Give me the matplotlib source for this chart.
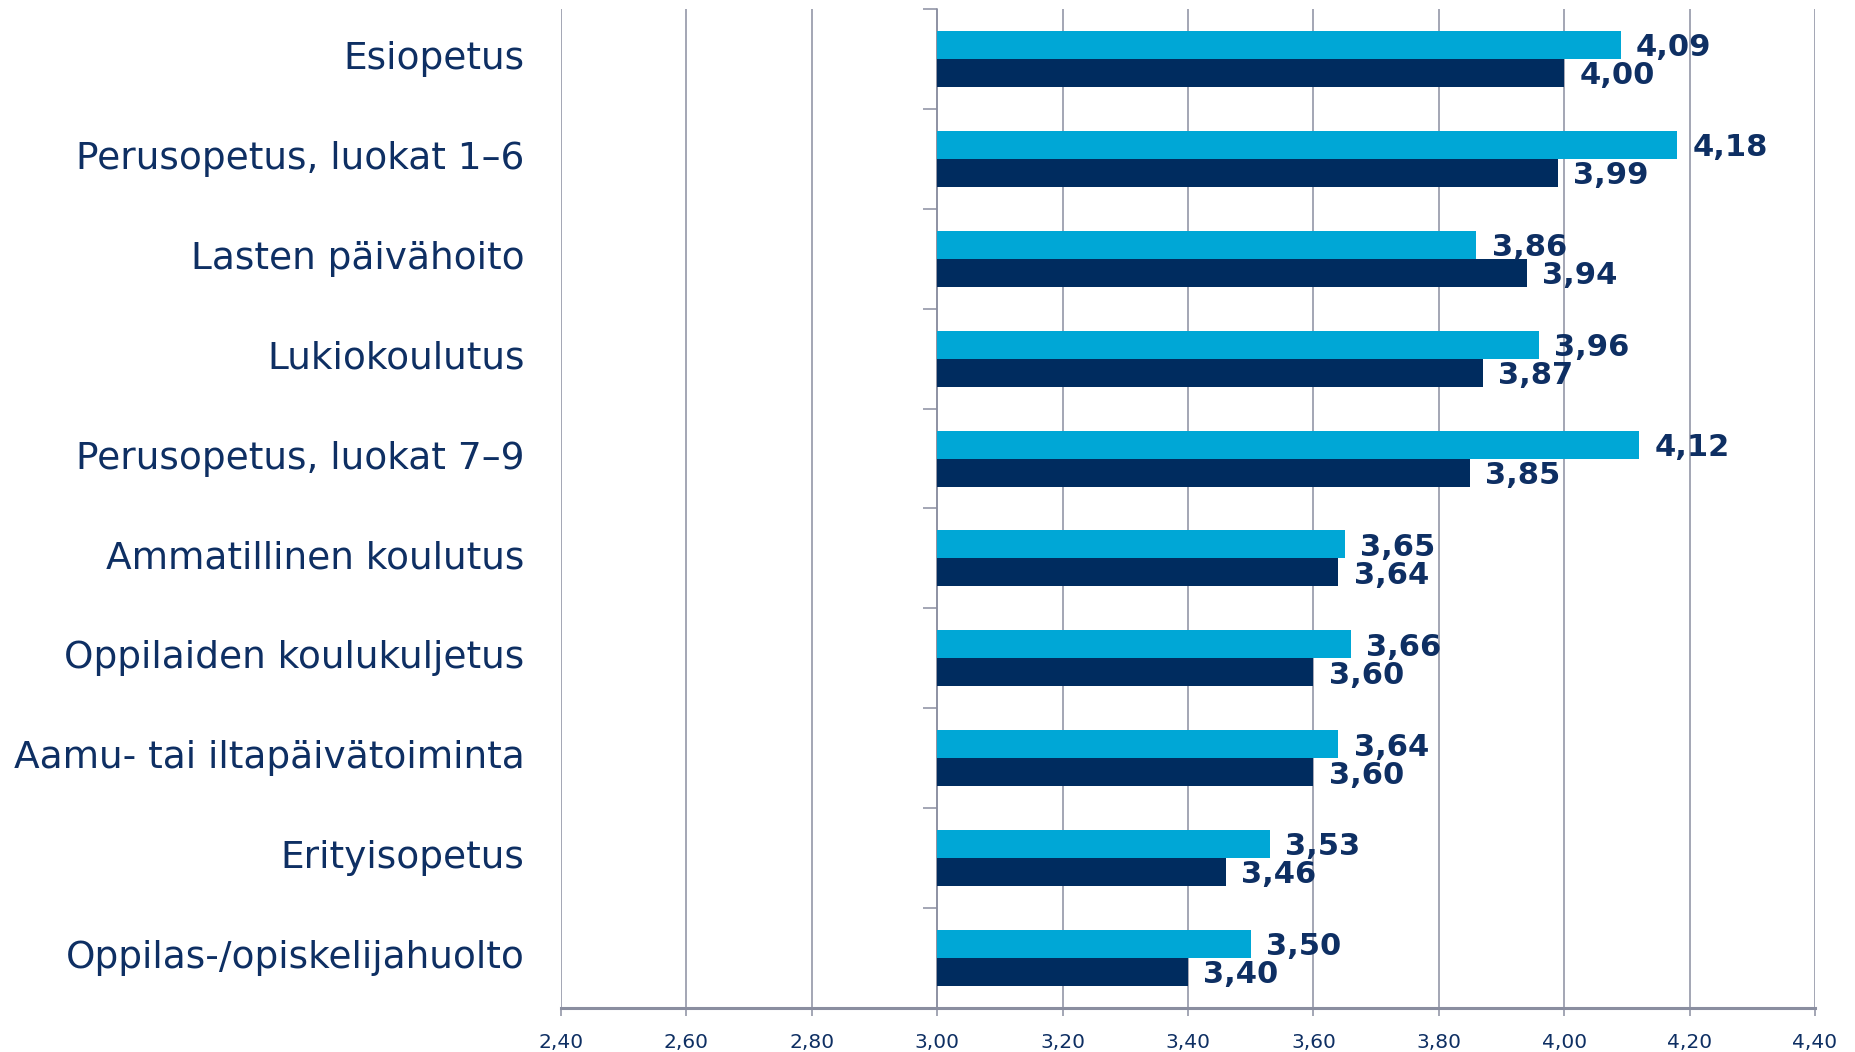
import numpy as np
import matplotlib
matplotlib.use('Agg')
import matplotlib.pyplot as plt
import matplotlib.transforms as mtransforms

categories = ['Esiopetus', 'Perusopetus, luokat 1\u20136', 'Lasten p\u00e4iv\u00e4hoito',
              'Lukiokoulutus', 'Perusopetus, luokat 7\u20139', 'Ammatillinen koulutus',
              'Oppilaiden koulukuljetus', 'Aamu- tai iltap\u00e4iv\u00e4toiminta',
              'Erityisopetus', 'Oppilas-/opiskelijahuolto']
light_vals = [4.09, 4.18, 3.86, 3.96, 4.12, 3.65, 3.66, 3.64, 3.53, 3.50]
dark_vals = [4.00, 3.99, 3.94, 3.87, 3.85, 3.64, 3.60, 3.60, 3.46, 3.40]
xticks = [2.40, 2.60, 2.80, 3.00, 3.20, 3.40, 3.60, 3.80, 4.00, 4.20, 4.40]

light = '#00A7D6'
dark = '#002C5F'
navy = '#0E2F63'
grid = '#8A8EA0'
base = 3.0

fig = plt.figure(figsize=(18.56, 10.52), dpi=100)
ax = fig.add_axes([561/1856, 1 - 1008/1052, (1815-561)/1856, (1008-9)/1052])

y = np.arange(len(categories))
h = 0.28
lv = np.array(light_vals)
dv = np.array(dark_vals)
ax.barh(y - h/2, lv - base, height=h, left=base, color=light, zorder=3)
ax.barh(y + h/2, dv - base, height=h, left=base, color=dark, zorder=3)

def fmt(v):
    return ('%.2f' % v).replace('.', ',')

for i in range(len(categories)):
    ax.annotate(fmt(lv[i]), (lv[i], y[i] - h/2),
                xytext=(11, -2), textcoords='offset points', va='center', ha='left',
                fontsize=22, fontweight='bold', color=navy, zorder=4)
    ax.annotate(fmt(dv[i]), (dv[i], y[i] + h/2),
                xytext=(11, -2), textcoords='offset points', va='center', ha='left',
                fontsize=22, fontweight='bold', color=navy, zorder=4)

# category names sit left of the axes, not at the spine
trans = mtransforms.blended_transform_factory(ax.transAxes, ax.transData)
for i, c in enumerate(categories):
    ax.text(-0.029, y[i], c, transform=trans, ha='right', va='center',
            fontsize=27, color=navy)

ax.set_xlim(2.40, 4.40)
ax.set_ylim(len(categories) - 0.5, -0.5)
ax.set_xticks(xticks)
ax.set_xticklabels([fmt(t) for t in xticks], fontsize=14.5, color=navy)
ax.set_yticks(np.arange(len(categories) + 1) - 0.5)
ax.set_yticklabels([])

for t in xticks:
    ax.axvline(t, color=grid, lw=1.1, zorder=1)

ax.spines['top'].set_visible(False)
ax.spines['right'].set_visible(False)
ax.spines['left'].set_position(('data', base))
ax.spines['left'].set_color(grid)
ax.spines['left'].set_linewidth(1.1)
ax.spines['bottom'].set_color(grid)
ax.spines['bottom'].set_linewidth(2.2)
ax.tick_params(axis='y', direction='out', length=10, width=1.1, color=grid)
ax.tick_params(axis='x', direction='out', length=6, width=1.1, color=grid, pad=12)

fig.savefig('out.png', dpi=100)
